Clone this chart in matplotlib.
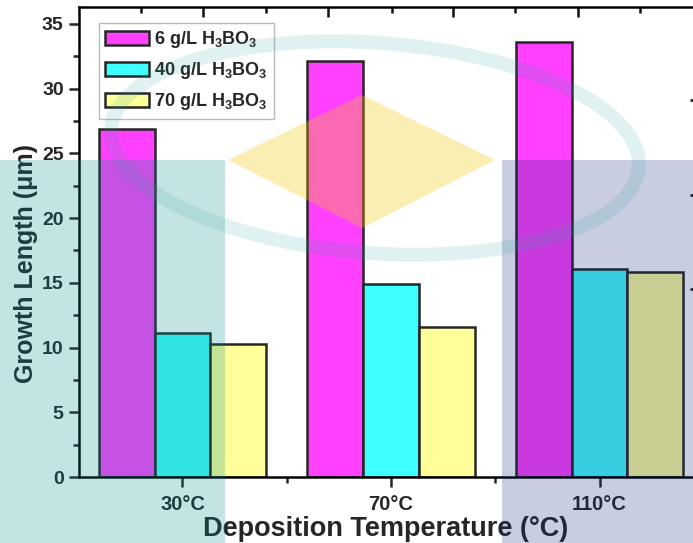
import matplotlib.pyplot as plt
import numpy as np
from matplotlib.patches import Rectangle, Polygon, Ellipse

plt.rcParams['font.family'] = ['Liberation Sans', 'DejaVu Sans']
plt.rcParams['font.weight'] = 'bold'
plt.rcParams['axes.labelweight'] = 'bold'
plt.rcParams['mathtext.fontset'] = 'custom'
plt.rcParams['mathtext.bf'] = 'Liberation Sans:bold'
plt.rcParams['mathtext.rm'] = 'Liberation Sans:bold'

# data
temps = ['30°C', '70°C', '110°C']
series = ['6 g/L H$_\\mathbf{3}$BO$_\\mathbf{3}$',
          '40 g/L H$_\\mathbf{3}$BO$_\\mathbf{3}$',
          '70 g/L H$_\\mathbf{3}$BO$_\\mathbf{3}$']
len_6 = [26.9, 32.1, 33.6]
len_40 = [11.1, 14.9, 16.1]
len_70 = [10.3, 11.6, 15.8]
values = [len_6, len_40, len_70]
colors = ['#ff40ff', '#40ffff', '#ffff99']

W, H = 693, 543
fig = plt.figure(figsize=(W / 100, H / 100), dpi=100)
ax = fig.add_axes([79 / W, 66 / H, (698 - 79) / W, 470 / H])

txt = '#262626'
x = np.arange(len(temps))
w = 0.267
for i in range(3):
    ax.bar(x + (i - 1) * w, values[i], w, color=colors[i], edgecolor='#262626',
           linewidth=1.8, label=series[i], zorder=2)

ax.set_xlim(-0.496, 2.472)
ax.set_ylim(0, 36.3)
ax.set_xticks(x)
ax.set_xticklabels(temps)
ax.set_xticks([0.5, 1.5], minor=True)
ax.set_yticks(np.arange(0, 36, 5))
ax.set_yticks(np.arange(2.5, 36, 5), minor=True)
ax.tick_params(which='major', direction='out', length=7, width=1.8, labelsize=14,
               colors=txt, pad=4)
ax.tick_params(which='minor', direction='out', length=4, width=1.8, colors=txt)
ax.tick_params(axis='x', which='major', pad=6, labelsize=14.5)
for s in ax.spines.values():
    s.set_linewidth(1.8)
    s.set_color('#111111')

ax.set_xlabel('Deposition Temperature (°C)', fontsize=19.5, color=txt)
ax.set_ylabel('Growth Length (μm)', fontsize=18, color=txt)
ax.xaxis.set_label_coords(0.4955, -0.083)
ax.yaxis.set_label_coords(-0.066, 0.455)

# top and right axes ticks (Origin style)
top = ax.twiny()
top.set_xlim(ax.get_xlim())
top.set_xticks([0.098, 0.698, 1.297, 1.895])
top.set_xticks([-0.199, 0.40, 1.004, 1.595, 2.194], minor=True)
top.set_xticklabels([])
top.tick_params(which='major', direction='in', length=7, width=1.8, colors='#111111')
top.tick_params(which='minor', direction='in', length=4, width=1.8, colors='#111111')
right = ax.twinx()
right.set_ylim(ax.get_ylim())
right.set_yticks([14.5, 21.8, 29.1])
right.set_yticklabels([])
right.tick_params(direction='in', length=6, width=1.8, colors='#111111')

leg = ax.legend(loc='upper left', bbox_to_anchor=(20 / 619, 1 - 16 / 470),
                fontsize=13, frameon=True, fancybox=False, edgecolor='#aaaaaa',
                handlelength=2.4, handleheight=0.85, labelspacing=0.55,
                borderpad=0.35, handletextpad=0.3, borderaxespad=0)
leg.get_frame().set_linewidth(1.0)
for t in leg.get_texts():
    t.set_color(txt)


def fx(px):
    return px / W


def fy(py):
    return 1 - py / H


# faint background marks over the picture
fig.add_artist(Rectangle((fx(0), fy(543)), fx(225), fy(160) - fy(543),
                         transform=fig.transFigure, color='#008c8c', alpha=0.23,
                         lw=0, zorder=10))
fig.add_artist(Rectangle((fx(502), fy(543)), fx(693 - 502), fy(160) - fy(543),
                         transform=fig.transFigure, color='#142878', alpha=0.23,
                         lw=0, zorder=10))
fig.add_artist(Polygon([(fx(228), fy(160)), (fx(362), fy(95)), (fx(495), fy(160)),
                        (fx(362), fy(228))], transform=fig.transFigure,
                       color='#f5c800', alpha=0.3, lw=0, zorder=10))
fig.add_artist(Ellipse((fx(375), fy(148)), fx(530), 210 / H, angle=-6,
                       transform=fig.transFigure, fill=False, edgecolor='#2aa0a0',
                       alpha=0.14, lw=10, zorder=10))

fig.savefig('out.png', dpi=100)
